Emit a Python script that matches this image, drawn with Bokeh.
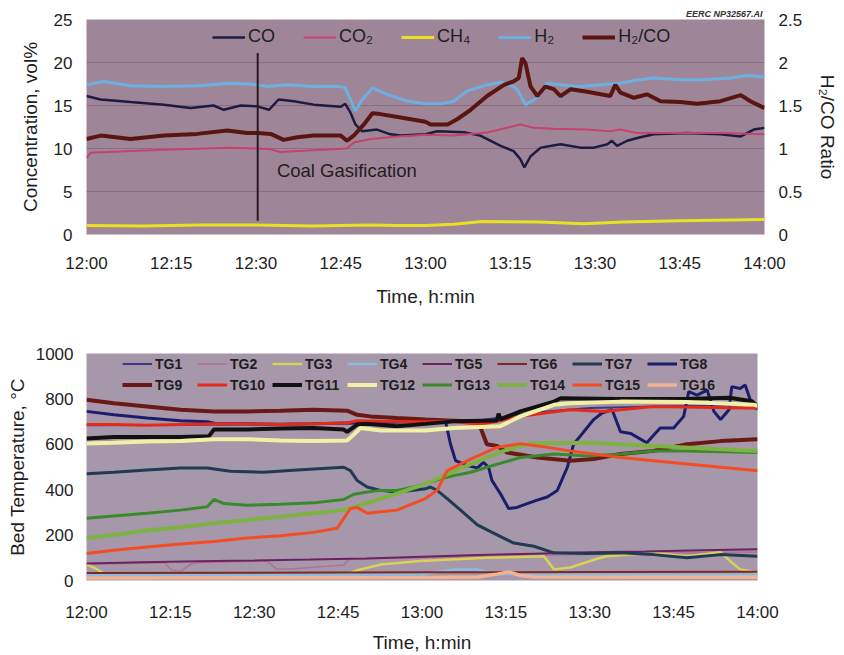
from bokeh.plotting import figure
from bokeh.models import (Range1d, LinearAxis, FixedTicker, Legend, LegendItem,
                          Label, NumeralTickFormatter)
from bokeh.layouts import column
from bokeh.embed import file_html
from bokeh.resources import INLINE

FONT = "Liberation Sans"
TXT = "#1e1e1e"

# ---------------- time axis (minutes after 12:00) ----------------
time_ticks = [0, 15, 30, 45, 60, 75, 90, 105, 120]
time_labels = ["12:00", "12:15", "12:30", "12:45", "13:00", "13:15", "13:30", "13:45", "14:00"]

# ---------------- top chart: gas composition ----------------
t_co = [0, 2.5, 7.8, 13.7, 18.4, 22.5, 24.3, 27.3, 30.2, 32.3, 34.0, 36.7, 40.2, 45.0, 45.8, 46.7,
        47.6, 48.8, 51.4, 53.8, 55.6, 60.0, 62.1, 66.8, 69.7, 73.3, 75.6, 76.8, 77.5, 78.6, 80.4,
        83.9, 87.4, 89.8, 92.2, 93.0, 93.9, 95.7, 98.0, 100.4, 106.3, 112.2, 115.8, 118.1, 120]
co = [16.1, 15.7, 15.4, 15.1, 14.7, 15.0, 14.5, 15.0, 14.9, 14.5, 15.7, 15.5, 15.1, 14.85, 15.2, 14.2,
      12.8, 12.0, 12.2, 11.65, 11.5, 11.65, 12.0, 11.9, 11.5, 10.3, 9.7, 8.75, 7.8, 9.1, 10.1,
      10.5, 10.1, 10.1, 10.5, 10.9, 10.3, 10.9, 11.3, 11.65, 11.8, 11.65, 11.4, 12.2, 12.4]

t_co2 = [0, 0.7, 7.8, 16.6, 25.5, 30.2, 32.6, 34.3, 40.2, 46.1, 47.3, 50.3, 55.0, 60.0, 65.0,
         70.9, 76.8, 79.2, 82.7, 88.6, 92.7, 94.5, 97.4, 106.3, 112.2, 120]
co2 = [8.9, 9.5, 9.7, 9.9, 10.1, 10.0, 9.9, 9.6, 9.8, 10.0, 10.7, 11.1, 11.4, 11.6, 11.5,
       11.85, 12.8, 12.4, 12.3, 12.2, 12.0, 12.2, 11.8, 11.8, 11.8, 11.65]

t_ch4 = [0, 10, 20, 30, 40, 50, 55, 60, 65, 70, 80, 88, 95, 105, 120]
ch4 = [1.05, 1.0, 1.1, 1.1, 1.0, 1.1, 1.05, 1.05, 1.2, 1.5, 1.45, 1.25, 1.45, 1.6, 1.75]

t_h2 = [0, 3.1, 7.8, 13.7, 19.6, 25.5, 28.4, 30.2, 32.0, 35.5, 40.2, 45.0, 45.8, 46.7, 47.6, 48.8,
        50.6, 53.2, 56.8, 60.0, 62.7, 65.0, 67.4, 70.9, 73.3, 75.6, 76.2, 77.7, 79.8, 81.5, 83.9,
        87.4, 91.0, 94.5, 96.9, 100.4, 105.1, 109.3, 114.0, 117.0, 120]
h2 = [17.4, 17.8, 17.3, 17.2, 17.3, 17.6, 17.5, 17.4, 17.2, 17.4, 17.2, 17.2, 17.05, 15.7, 14.35, 15.7,
      17.05, 16.3, 15.5, 15.2, 15.2, 15.5, 16.7, 17.4, 17.7, 17.2, 16.9, 15.1, 15.9, 17.6, 17.4,
      17.2, 17.4, 17.6, 17.9, 18.2, 18.0, 18.0, 18.2, 18.5, 18.3]

t_ratio = [0, 2.5, 7.8, 13.7, 19.6, 24.9, 28.4, 30.2, 32.6, 34.9, 37.3, 40.2, 45.0, 46.1, 47.3,
           49.1, 50.6, 52.0, 55.6, 60.0, 60.9, 63.9, 65.6, 68.0, 70.9, 73.9, 75.6, 76.5, 77.1, 77.7,
           78.6, 79.8, 81.2, 82.7, 83.9, 85.7, 88.6, 91.0, 92.7, 93.6, 94.5, 96.9, 99.2, 101.6,
           105.1, 108.1, 112.2, 115.8, 117.5, 120]
ratio = [1.11, 1.15, 1.11, 1.15, 1.17, 1.21, 1.18, 1.18, 1.17, 1.10, 1.13, 1.15, 1.15, 1.09, 1.15,
         1.28, 1.41, 1.40, 1.36, 1.31, 1.28, 1.28, 1.34, 1.45, 1.61, 1.74, 1.78, 1.82, 2.05, 1.99,
         1.72, 1.61, 1.72, 1.69, 1.61, 1.69, 1.66, 1.63, 1.61, 1.74, 1.65, 1.59, 1.63, 1.55,
         1.54, 1.52, 1.55, 1.62, 1.55, 1.47]

gasif_t = 30.3
gasif_span = [1.6, 21.1]
gasif_text = "Coal Gasification"
gasif_text_pos = (33.7, 7.4)

# ---------------- bottom chart: bed temperatures ----------------
t_tg1 = [0, 10, 20, 30, 40, 50, 60, 70, 80, 90, 100, 110, 120]
tg1 = [684, 685, 686, 688, 689, 693, 698, 705, 740, 760, 765, 770, 772]

t_tg2 = [0, 14.0, 15.2, 17.0, 18.6, 20, 30, 32.3, 34.0, 37.0, 46.0, 47.0, 60, 80, 100, 120]
tg2 = [72, 78, 45, 42, 72, 78, 85, 85, 50, 52, 68, 95, 100, 110, 120, 125]

t_tg3 = [0, 1.5, 3.1, 10, 20, 30, 40, 46.6, 48.4, 52.6, 59.7, 71.6, 81.8, 83.6, 86.5, 91.9,
         93.1, 101.4, 107.4, 113.4, 115.1, 116.9, 120]
tg3 = [71, 55, 30, 25, 22, 22, 25, 28, 45, 70, 86, 100, 107, 49, 57, 100,
       107, 122, 107, 125, 86, 49, 35]

t_tg4 = [0, 20, 40, 60, 63, 66, 70, 73, 80, 100, 120]
tg4 = [25, 25, 25, 26, 40, 48, 48, 30, 26, 25, 25]

t_tg5 = [0, 10, 20, 30, 40, 50, 60, 70, 80, 90, 100, 110, 120]
tg5 = [75, 80, 85, 88, 92, 97, 105, 112, 118, 124, 128, 133, 138]

t_tg6 = [0, 30, 60, 90, 120]
tg6 = [33, 34, 36, 37, 38]

t_tg7 = [0, 4.9, 10.8, 16.8, 21.6, 25.7, 31.7, 37.7, 46.0, 47.2, 48.4, 50.2, 52.6, 55.5, 58.5,
         60.6, 61.5, 62.7, 64.5, 66.9, 69.9, 72.8, 76.4, 80.0, 83.6, 89.5, 95.5, 101.4, 107.4,
         113.4, 120]
tg7 = [470, 477, 487, 496, 496, 481, 477, 487, 499, 484, 441, 412, 397, 390, 397,
       404, 412, 397, 361, 310, 245, 209, 165, 151, 122, 119, 122, 114, 100,
       114, 107]

t_tg8 = [0, 4.9, 10.8, 16.8, 21.6, 23.4, 28.7, 34.7, 40.6, 46.6, 52.0, 58.0, 64.2, 65.1, 66.0,
         68.1, 69.9, 71.0, 71.9, 72.5, 74.0, 75.5, 77.0, 78.8, 80.6, 82.4, 84.2, 86.0, 87.1,
         88.3, 90.7, 92.2, 94.0, 95.5, 97.3, 100.2, 102.6, 105.0, 106.8, 107.7, 109.2, 111.0,
         112.2, 113.4, 114.9, 115.4, 116.9, 117.8, 118.7, 119.6, 120]
tg8 = [745, 730, 716, 704, 699, 690, 690, 688, 690, 694, 697, 700, 701, 600, 528,
       506, 496, 520, 499, 441, 383, 317, 322, 339, 354, 368, 397, 499, 600,
       636, 709, 738, 752, 655, 648, 607, 672, 672, 723, 832, 817, 839,
       745, 709, 752, 854, 846, 861, 796, 759, 755]

t_tg9 = [0, 4.9, 10.8, 16.8, 22.8, 28.7, 34.7, 40.6, 46.6, 48.4, 50.8, 55.5, 60.6, 69.9, 70.2,
         71.6, 73.4, 75.2, 80.6, 86.5, 90.7, 95.5, 101.4, 107.4, 113.4, 120]
tg9 = [796, 781, 767, 752, 745, 745, 748, 752, 748, 730, 723, 716, 709, 699, 690,
       600, 593, 564, 542, 528, 535, 557, 571, 600, 614, 622]

t_tg10 = [0, 4.9, 10.8, 16.8, 22.8, 28.7, 34.7, 40.6, 46.6, 48.4, 52.6, 60.6, 65.1, 70.5, 77.6,
          86.5, 92.5, 101.4, 120]
tg10 = [687, 687, 684, 687, 690, 690, 687, 690, 694, 704, 701, 699, 701, 687, 723,
        752, 745, 767, 759]

t_tg11 = [0, 4.9, 10.8, 16.8, 21.9, 22.8, 28.7, 34.7, 40.6, 46.0, 46.6, 48.4, 50.2, 55.5, 60.6,
          65.7, 73.4, 73.7, 74.0, 77.6, 83.6, 84.8, 95.0, 107.0, 115.0, 119.0, 120]
tg11 = [626, 632, 632, 632, 636, 665, 665, 670, 672, 665, 655, 687, 690, 680, 690,
        701, 705, 735, 710, 745, 788, 803, 800, 800, 805, 790, 768]

t_tg12 = [0, 4.9, 10.8, 16.8, 22.8, 28.7, 34.7, 40.6, 46.6, 47.8, 49.0, 52.6, 60.6, 65.7, 74.0,
          77.6, 83.6, 86.5, 95.5, 107.4, 119.3, 120]
tg12 = [603, 607, 612, 614, 622, 622, 617, 614, 617, 643, 672, 661, 661, 672, 680,
        723, 774, 781, 788, 786, 774, 770]

t_tg13 = [0, 4.9, 10.8, 16.8, 21.6, 22.8, 24.6, 28.7, 34.7, 40.6, 46.0, 47.8, 50.2, 52.6, 55.5,
          58.5, 60.6, 63.3, 65.7, 68.7, 71.6, 77.6, 83.6, 89.5, 95.5, 101.4, 107.4, 120]
tg13 = [274, 284, 296, 310, 325, 357, 339, 332, 336, 342, 357, 380, 390, 397, 397,
        412, 426, 448, 462, 477, 499, 542, 557, 549, 557, 571, 571, 564]

t_tg14 = [0, 4.9, 10.8, 16.8, 22.8, 28.7, 34.7, 40.6, 46.0, 49.6, 55.5, 60.6, 63.3, 68.7, 74.6,
          79.4, 89.5, 101.4, 113.4, 120]
tg14 = [187, 201, 220, 235, 252, 267, 281, 296, 310, 336, 383, 426, 455, 513, 571,
        603, 607, 593, 578, 571]

t_tg15 = [0, 4.9, 10.8, 16.8, 22.8, 28.7, 34.7, 40.6, 44.8, 46.0, 47.2, 48.4, 50.2, 55.5, 60.6,
          62.7, 64.5, 68.7, 73.4, 77.6, 80.6, 86.5, 95.5, 107.4, 120]
tg15 = [119, 133, 148, 161, 172, 187, 197, 212, 230, 274, 317, 322, 296, 310, 361,
        397, 484, 535, 586, 603, 593, 571, 542, 513, 484]

t_tg16 = [0, 30, 60, 70, 73.4, 75.5, 77.6, 80, 100, 120]
tg16 = [11, 12, 13, 15, 28, 38, 22, 15, 14, 14]

tg_names = ["TG1", "TG2", "TG3", "TG4", "TG5", "TG6", "TG7", "TG8",
            "TG9", "TG10", "TG11", "TG12", "TG13", "TG14", "TG15", "TG16"]
tg_times = [t_tg1, t_tg2, t_tg3, t_tg4, t_tg5, t_tg6, t_tg7, t_tg8,
            t_tg9, t_tg10, t_tg11, t_tg12, t_tg13, t_tg14, t_tg15, t_tg16]
tg_vals = [tg1, tg2, tg3, tg4, tg5, tg6, tg7, tg8,
           tg9, tg10, tg11, tg12, tg13, tg14, tg15, tg16]
tg_colors = ["#3b3a86", "#b27196", "#d9d257", "#8bbbe3", "#6b2262", "#7c2a22", "#1f3a52", "#1b1d6c",
             "#6a1a16", "#e62a1a", "#111111", "#f2f0a4", "#3a8a2c", "#7db343", "#f24c22", "#f2b393"]
tg_widths = [2, 1.6, 2.5, 2.5, 2, 2, 3, 3, 4, 3, 4, 4, 3, 4, 3, 3.5]


def style_axis(ax, label_standoff, title_standoff):
    ax.axis_line_color = None
    ax.major_tick_line_color = None
    ax.minor_tick_line_color = None
    ax.major_tick_out = 0
    ax.major_tick_in = 0
    ax.minor_tick_out = 0
    ax.major_label_text_font = FONT
    ax.major_label_text_font_size = "17px"
    ax.major_label_text_color = TXT
    ax.axis_label_text_font = FONT
    ax.axis_label_text_font_size = "19px"
    ax.axis_label_text_font_style = "normal"
    ax.axis_label_text_color = TXT
    ax.major_label_standoff = label_standoff
    ax.axis_label_standoff = title_standoff


# ======================= TOP FIGURE =======================
top = figure(width=844, height=338, output_backend="svg", toolbar_location=None,
             x_range=Range1d(0, 120), y_range=Range1d(0, 25),
             min_border_left=86, min_border_right=80, min_border_top=19, min_border_bottom=104,
             background_fill_color="#9e8698", border_fill_color="white",
             outline_line_color=None)
top.extra_y_ranges = {"ratio": Range1d(0, 2.5)}

top.title.text = "EERC NP32567.AI"
top.title.align = "right"
top.title.text_font = FONT
top.title.text_font_size = "9px"
top.title.text_font_style = "bold italic"
top.title.text_color = "#333333"
top.title.standoff = 2
top.title.offset = 2

top.xaxis.ticker = FixedTicker(ticks=time_ticks)
top.xaxis.major_label_overrides = dict(zip(time_ticks, time_labels))
top.xaxis.axis_label = "Time, h:min"
style_axis(top.xaxis[0], 19, 10)

top.yaxis.ticker = FixedTicker(ticks=[0, 5, 10, 15, 20, 25])
top.yaxis.axis_label = "Concentration, vol%"
style_axis(top.yaxis[0], 14, 10)

rax = LinearAxis(y_range_name="ratio", axis_label="H\u2082/CO Ratio",
                 ticker=FixedTicker(ticks=[0, 0.5, 1, 1.5, 2, 2.5]),
                 formatter=NumeralTickFormatter(format="0.[0]"))
style_axis(rax, 14, 12)
top.add_layout(rax, "right")

top.xgrid.grid_line_color = None
top.ygrid.grid_line_color = "#85707f"
top.ygrid.grid_line_width = 1

r_co = top.line(t_co, co, line_color="#1d1b42", line_width=2.5)
r_co2 = top.line(t_co2, co2, line_color="#c4426c", line_width=2)
r_ch4 = top.line(t_ch4, ch4, line_color="#e9e11f", line_width=3)
r_h2 = top.line(t_h2, h2, line_color="#6cb0e2", line_width=3)
r_ratio = top.line(t_ratio, ratio, line_color="#5a1511", line_width=4, y_range_name="ratio")

top.segment(x0=[gasif_t], y0=[gasif_span[0]], x1=[gasif_t], y1=[gasif_span[1]],
            line_color="#2a1a24", line_width=2)
top.add_layout(Label(x=gasif_text_pos[0], y=gasif_text_pos[1], text=gasif_text,
                     text_font=FONT, text_font_size="18.5px", text_color=TXT,
                     text_baseline="middle", text_align="left"))

leg_top = Legend(items=[LegendItem(label="CO", renderers=[r_co]),
                        LegendItem(label="CO\u2082", renderers=[r_co2]),
                        LegendItem(label="CH\u2084", renderers=[r_ch4]),
                        LegendItem(label="H\u2082", renderers=[r_h2]),
                        LegendItem(label="H\u2082/CO", renderers=[r_ratio])],
                 orientation="horizontal", location=(126, 187),
                 background_fill_alpha=0, border_line_color=None,
                 padding=0, margin=0, spacing=28, glyph_width=33, glyph_height=20,
                 label_standoff=3, label_height=20,
                 label_text_font=FONT, label_text_font_size="18px", label_text_color=TXT)
top.add_layout(leg_top)

# ======================= BOTTOM FIGURE =======================
bot = figure(width=837, height=317, output_backend="svg", toolbar_location=None,
             x_range=Range1d(0, 120), y_range=Range1d(0, 1000),
             min_border_left=86, min_border_right=80, min_border_top=15, min_border_bottom=72,
             background_fill_color="#a797aa", border_fill_color="white",
             outline_line_color=None)

bot.xaxis.ticker = FixedTicker(ticks=time_ticks)
bot.xaxis.major_label_overrides = dict(zip(time_ticks, time_labels))
bot.xaxis.axis_label = "Time, h:min"
style_axis(bot.xaxis[0], 22, 7)

bot.yaxis.ticker = FixedTicker(ticks=[0, 200, 400, 600, 800, 1000])
bot.yaxis.axis_label = "Bed Temperature, \u00b0C"
style_axis(bot.yaxis[0], 13, 5)

bot.xgrid.grid_line_color = None
bot.ygrid.grid_line_color = None

tg_items = []
for name, tt, vv, col, w in zip(tg_names, tg_times, tg_vals, tg_colors, tg_widths):
    r = bot.line(tt, vv, line_color=col, line_width=w)
    tg_items.append(LegendItem(label=name, renderers=[r]))

leg_bot = Legend(items=tg_items, orientation="horizontal", nrows=2,
                 location=(36, 187),
                 background_fill_alpha=0, border_line_color=None,
                 padding=0, margin=0, spacing=4, glyph_width=30, glyph_height=17,
                 label_standoff=3, label_height=17, label_width=38,
                 label_text_font=FONT, label_text_font_size="14px",
                 label_text_font_style="bold", label_text_color=TXT)
bot.add_layout(leg_bot)

layout = column(top, bot, spacing=0)
open("out.html", "w").write(file_html(layout, INLINE))
